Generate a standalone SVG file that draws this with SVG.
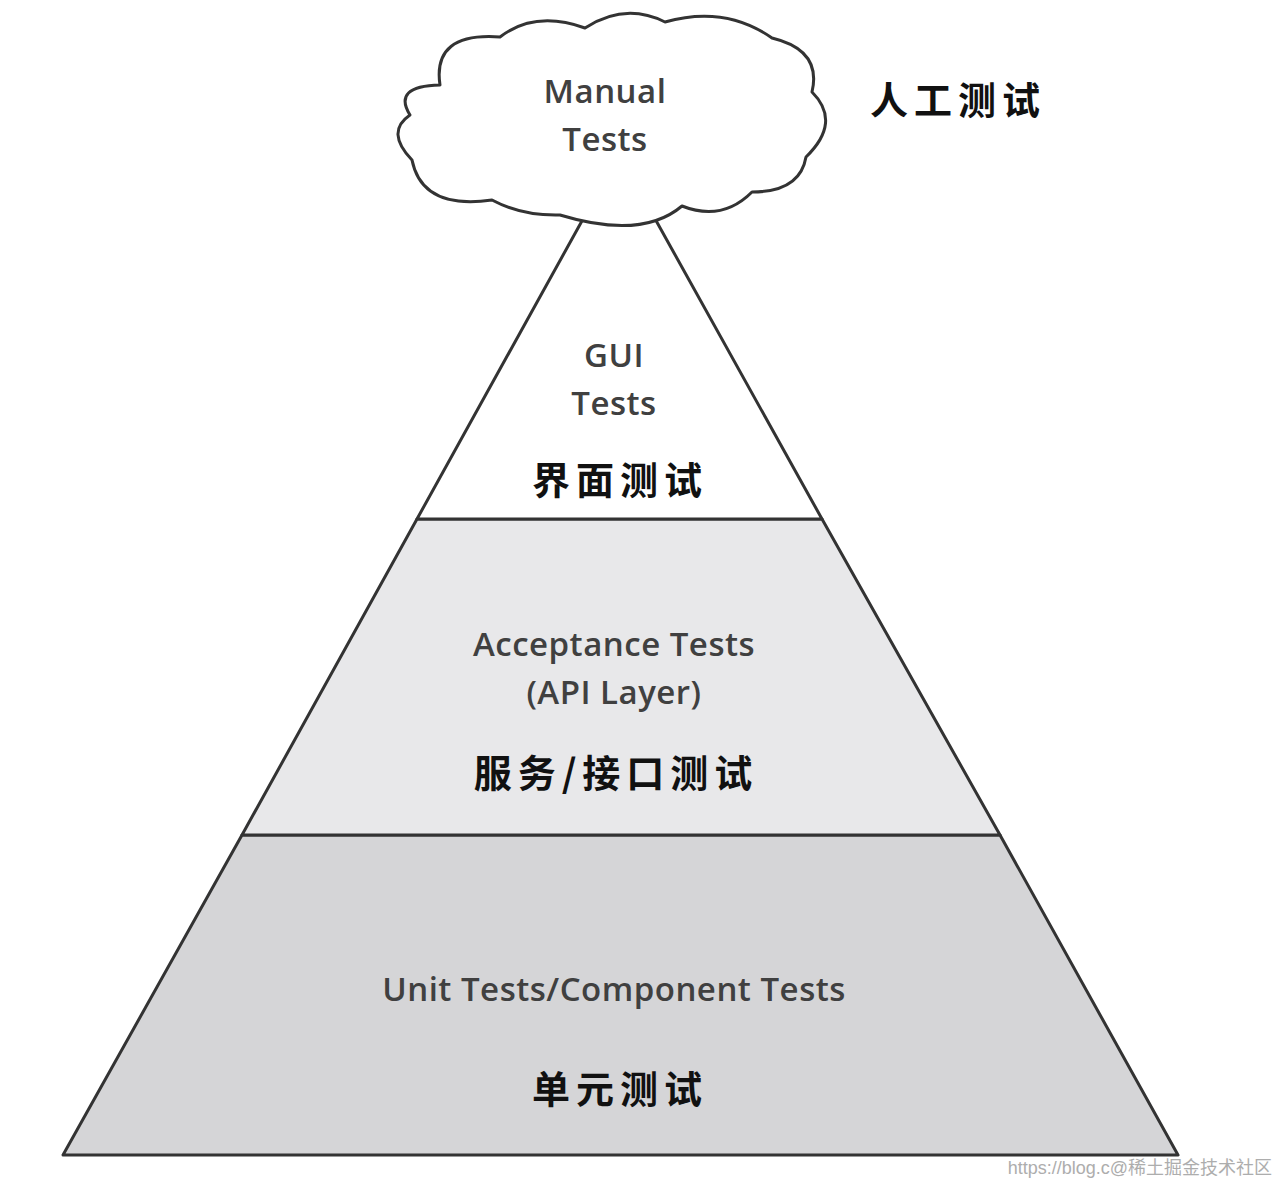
<svg xmlns="http://www.w3.org/2000/svg" width="1280" height="1184" viewBox="0 0 1280 1184">
<style>
.en{font-family:"Open Sans","Liberation Sans",sans-serif;font-size:33px;font-weight:600;fill:#404040;text-anchor:middle;letter-spacing:0.5px}
.zh{font-family:"Noto Sans CJK SC",sans-serif;font-size:38px;font-weight:bold;fill:#111;text-anchor:middle;letter-spacing:6px}
.ln{stroke:#333;stroke-width:3;stroke-linejoin:round}
</style>
<rect width="1280" height="1184" fill="#fff"/>
<g id="connectors"></g>
<g id="layer-unit">
<polygon class="ln" points="242,835 1000,835 1178,1155 63,1155" fill="#d5d5d7"/>
<text class="en" x="614" y="1001">Unit Tests/Component Tests</text>
<text class="zh" x="620" y="1103">单元测试</text>
</g>
<g id="layer-api">
<polygon class="ln" points="417,519 822,519 1000,835 242,835" fill="#e8e8ea"/>
<text class="en" x="614" y="656">Acceptance Tests</text>
<text class="en" x="614" y="704">(API Layer)</text>
<text class="zh" x="616" y="787">服务/接口测试</text>
</g>
<g id="layer-gui">
<polygon class="ln" points="619,154 822,519 417,519" fill="#fff"/>
<text class="en" x="614" y="367">GUI</text>
<text class="en" x="614" y="415">Tests</text>
<text class="zh" x="620" y="494">界面测试</text>
</g>
<g id="manual">
<path class="ln" fill="#fff" d="M440,85 Q432,32 500,37 Q535,10 585,28 Q625,2 665,22 Q725,5 772,38 Q822,50 812,92 Q842,122 806,157 Q800,192 752,192 Q722,222 682,206 Q642,240 560,215 Q522,216 492,200 Q422,210 412,160 Q385,132 410,115 Q392,86 440,85 Z"/>
<text class="en" x="605" y="103">Manual</text>
<text class="en" x="605" y="151">Tests</text>
<text class="zh" x="958" y="114">人工测试</text>
</g>
<g id="watermark">
<text x="1272" y="1174" font-family="Liberation Sans,Noto Sans CJK SC,sans-serif" font-size="18" fill="#999" text-anchor="end" opacity="0.8">https://blog.c@稀土掘金技术社区</text>
</g>
</svg>
